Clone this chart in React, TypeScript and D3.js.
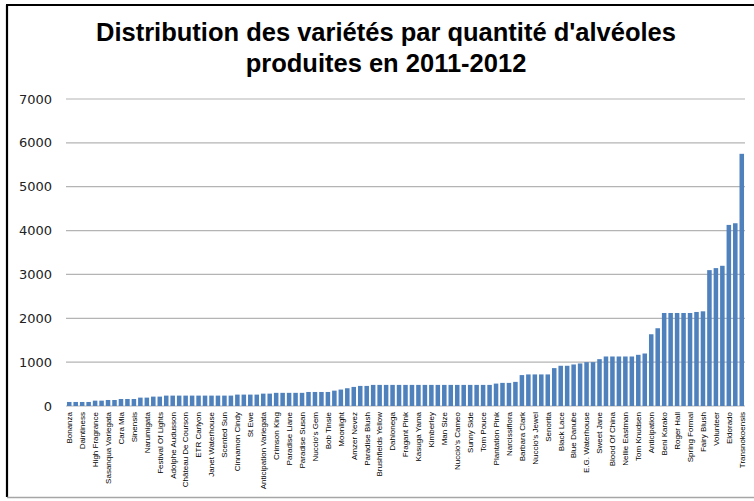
import * as d3 from "d3";

// one label for every other bar (the chart only prints odd bars)
const labels = [
  "Bonanza", "Daintiness", "High Fragrance", "Sasanqua Variegata", "Cara Mia", "Sinensis",
  "Narumigata", "Festival Of Lights", "Adolphe Audusson", "Château De Courson", "ETR Carlyon",
  "Janet Waterhouse", "Scented Sun", "Cinnamon Cindy", "St Ewe", "Anticipation Variegata",
  "Crimson King", "Paradise Liane", "Paradise Susan", "Nuccio's Gem", "Bob Tinsie", "Moonlight",
  "Amzer Nevez", "Paradise Blush", "Brushfields Yellow", "Dahlonega", "Fragant Pink",
  "Kasuga Yama", "Kimberley", "Man Size", "Nuccio's Cameo", "Sunny Side", "Tom Pouce",
  "Plantation Pink", "Narcissiflora", "Barbara Clark", "Nuccio's Jewel", "Senorita",
  "Black Lace", "Blue Danube", "E.G. Waterhouse", "Sweet Jane", "Blood Of China",
  "Nellie Eastman", "Tom Knudsen", "Anticipation", "Beni Karako", "Roger Hall",
  "Spring Formal", "Fairy Blush", "Volunteer", "Eldorado", "Transnokoensis",
];

const values = [
  92, 92, 92, 92, 122, 122, 137, 137, 160, 160,
  160, 191, 191, 214, 214, 237, 237, 237, 237, 237,
  237, 237, 237, 237, 237, 237, 260, 260, 260, 260,
  282, 282, 300, 300, 300, 300, 300, 320, 320, 320,
  320, 350, 375, 405, 435, 458, 458, 481, 481, 481,
  481, 481, 481, 481, 481, 481, 481, 481, 481, 481,
  481, 481, 481, 481, 481, 481, 511, 527, 527, 550,
  705, 720, 720, 720, 720, 864, 917, 917, 947, 970,
  1000, 1000, 1068, 1129, 1129, 1129, 1129, 1129, 1167, 1197,
  1636, 1773, 2121, 2121, 2121, 2121, 2121, 2144, 2159, 3098,
  3144, 3197, 4129, 4167, 5750,
];

const yTicks = [0, 1000, 2000, 3000, 4000, 5000, 6000, 7000];

const W = 754;
const H = 501;

export default function App() {
  const idx = d3.range(values.length);
  const x = d3.scaleBand<number>().domain(idx).range([66, 745]).paddingInner(0.3).paddingOuter(0.15);
  const y = d3.scaleLinear().domain([0, 7000]).range([406, 99]);

  return (
    <svg
      width={W}
      height={H}
      style={{ position: "absolute", left: 0, top: 0, background: "#fff" }}
    >
      <rect x={0} y={0} width={W} height={H} fill="#fff" />
      {/* frame */}
      <line x1={6} x2={W} y1={5} y2={5} stroke="#000" strokeWidth={2.2} />
      <line x1={7} x2={7} y1={5} y2={497} stroke="#000" strokeWidth={2.2} />
      <line x1={7} x2={W} y1={497.5} y2={497.5} stroke="#a6a6a6" strokeWidth={1.5} />

      <g fontFamily="'Liberation Sans', Arial, sans-serif" fontWeight="bold" fontSize={25.5} textAnchor="middle" fill="#000">
        <text x={386} y={41}>Distribution des variétés par quantité d'alvéoles</text>
        <text x={386} y={72}>produites en 2011-2012</text>
      </g>

      {yTicks.map((t) => (
        <g key={t}>
          <line x1={66} x2={745} y1={y(t)} y2={y(t)} stroke="#b4b4b4" strokeWidth={1.2} />
          <text
            x={52}
            y={y(t)}
            dy="0.35em"
            textAnchor="end"
            fontFamily="'DejaVu Sans', sans-serif"
            fontSize={13}
            fill="#222"
          >
            {t}
          </text>
        </g>
      ))}

      {values.map((v, i) => (
        <rect
          key={i}
          x={x(i)}
          y={y(v)}
          width={x.bandwidth()}
          height={y(0) - y(v)}
          fill="#4f81bd"
        />
      ))}

      {idx
        .filter((i) => i % 2 === 0)
        .map((i) => {
          const cx = x(i)! + x.bandwidth() / 2;
          return (
            <text
              key={i}
              transform={`translate(${cx},412) rotate(-90)`}
              dy="0.35em"
              textAnchor="end"
              fontFamily="'Liberation Sans', Arial, sans-serif"
              fontSize={8}
              fill="#000"
            >
              {labels[i / 2]}
            </text>
          );
        })}
    </svg>
  );
}
